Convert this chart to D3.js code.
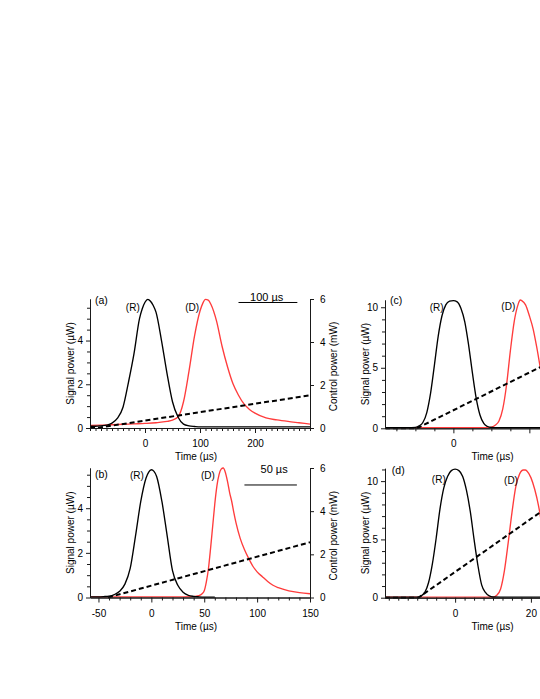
<!DOCTYPE html>
<html><head><meta charset="utf-8">
<script src="https://cdn.jsdelivr.net/npm/d3@7"></script>
<style>
body{margin:0;background:#fff}
svg{display:block}
text{font-family:"Liberation Sans",Arial,Helvetica,sans-serif}
</style>
</head><body>
<svg id="chart" width="540" height="699"></svg>
<script>
// ---------- Panel (a) ----------
const aTimeR   = [-100,-90,-80,-70,-60,-50,-40,-30,-20,-10,-5,0,5,10,15,20,30,40,50,60,70,80,90,100,150,200,250,300];
const aSignalR = [0.08,0.08,0.1,0.13,0.22,0.45,0.95,2.1,3.4,5.0,5.45,5.75,5.88,5.8,5.6,5.3,4.0,2.5,1.2,0.5,0.18,0.1,0.07,0.05,0.05,0.05,0.05,0.05];
const aTimeD   = [-100,-80,-60,-40,-20,0,20,40,50,60,70,80,90,100,105,110,115,120,130,140,150,160,170,180,190,200,220,240,260,280,300];
const aSignalD = [0.12,0.13,0.15,0.17,0.19,0.21,0.24,0.3,0.36,0.5,1.2,2.6,4.2,5.35,5.7,5.88,5.85,5.65,4.9,3.75,2.8,2.02,1.5,1.1,0.85,0.68,0.46,0.37,0.3,0.24,0.18];
const aTimeCtrl = [-100,-88,300];
const aCtrl     = [0,0,1.52];

// ---------- Panel (b) ----------
const bTimeR   = [-58,-50,-45,-40,-35,-30,-25,-20,-15,-10,-5,-2.5,0,2.5,5,10,15,20,25,30,35,40,45,50,55,60];
const bSignalR = [0.03,0.03,0.04,0.06,0.13,0.28,0.6,1.3,2.75,4.3,5.35,5.62,5.72,5.65,5.42,4.3,2.75,1.2,0.55,0.24,0.1,0.05,0.03,0.02,0.02,0.02];
const bTimeD   = [-58,-40,-20,0,20,40,45,48,50,52,54,56,58,60,62,64,66,68,70,72,74,76,78,80,84,88,92,96,100,105,110,115,120,130,140,150];
const bSignalD = [0.03,0.03,0.03,0.03,0.03,0.04,0.08,0.17,0.3,0.7,1.3,2.2,3.2,4.2,5.0,5.5,5.75,5.8,5.6,5.2,4.7,4.3,3.8,3.35,2.65,2.15,1.75,1.4,1.15,0.93,0.72,0.55,0.44,0.3,0.22,0.17];
const bTimeCtrl = [-41,150];
const bCtrl     = [0,2.56];

// ---------- Panel (c) ----------
const cTimeR   = [-18,-12,-10,-9,-8,-7,-6,-5,-4,-3,-2,-1,0,1,2,3,4,5,6,7,8,9,10,12,16,20,23.5];
const cSignalR = [0.05,0.05,0.08,0.2,0.5,1.3,2.9,5.2,7.6,9.3,10.2,10.5,10.55,10.45,9.9,8.8,6.9,4.6,2.5,1.1,0.4,0.15,0.07,0.05,0.05,0.05,0.05];
const cTimeD   = [-18,-10,0,5,9,10,11,12,13,14,15,16,17,17.6,18,19,20,21,22,23,23.5];
const cSignalD = [0.05,0.05,0.05,0.05,0.05,0.1,0.25,0.6,1.6,3.6,6.4,8.8,10.2,10.6,10.55,10.2,9.3,8.2,6.6,4.8,4.0];
const cTimeCtrl = [-18,-9.6,23.5];
const cCtrl     = [0,0,5.15];

// ---------- Panel (d) ----------
const dTimeR   = [-18.5,-10,-9,-8,-7,-6,-5,-4,-3,-2,-1,0,1,2,3,4,5,6,7,8,9,10,12,16,20,23];
const dSignalR = [0.05,0.05,0.15,0.45,1.3,2.9,5.1,7.6,9.4,10.4,10.9,11.03,10.9,10.4,9.2,7.4,5.0,2.8,1.1,0.45,0.15,0.06,0.05,0.05,0.05,0.05];
const dTimeD   = [-18.5,-10,0,5,10,11,12,13,14,15,16,17,18,18.5,19,20,21,22,22.5,23];
const dSignalD = [0.05,0.05,0.05,0.05,0.05,0.2,0.75,2.3,4.7,7.3,9.5,10.6,10.95,10.95,10.85,10.3,9.3,7.9,7.0,6.0];
const dTimeCtrl = [-18.5,-9.7,23];
const dCtrl     = [0,0,7.45];

// ---------- Tick labels ----------
const aTimeTicks = [0,100,200];
const bTimeTicks = [-50,0,50,100,150];
const cTimeTicks = [0];
const dTimeTicks = [0,20];
const abSignalTicks = [0,2,4];
const cdSignalTicks = [0,5,10];
const ctrlTicks = [0,2,4,6];

const FONT = '"Liberation Sans",Arial,Helvetica,sans-serif';
const RED = "#ff3c3c";
const AX = "#1a1a1a";
const svg = d3.select("#chart");

const panels = [
  {letter:"(a)", xDomain:[-100,300], xRange:[90,310], yDomain:[0,5.9], yRange:[428,299], cDomain:[0,6],
   tR:aTimeR, vR:aSignalR, tD:aTimeD, vD:aSignalD, tC:aTimeCtrl, vC:aCtrl,
   xMajor:[0,100,200], xLabels:aTimeTicks, xMinor:10, yMajor:abSignalTicks, yMinor:0.5, right:true,
   ann:{letter:[-90.9,5.65], R:[-22.2,5.35], D:[85.8,5.35]}, bar:{x0:170,x1:277,y:5.74,label:"100 µs",lx:221.3,ly:5.83}},
  {letter:"(b)", xDomain:[-58,150], xRange:[90,310], yDomain:[0,5.8], yRange:[597.5,468], cDomain:[0,6],
   tR:bTimeR, vR:bSignalR, tD:bTimeD, vD:bSignalD, tC:bTimeCtrl, vC:bCtrl,
   xMajor:[-50,0,50,100,150], xLabels:bTimeTicks, xMinor:10, yMajor:abSignalTicks, yMinor:0.5, right:true,
   ann:{letter:[-53.3,5.33], R:[-13.6,5.31], D:[53.4,5.31]}, bar:{x0:88,x1:137.6,y:5.04,label:"50 µs",lx:116.1,ly:5.58}},
  {letter:"(c)", xDomain:[-18,40.7], xRange:[385,608], yDomain:[0,10.6], yRange:[428.3,300], cDomain:null,
   tR:cTimeR, vR:cSignalR, tD:cTimeD, vD:cSignalD, tC:cTimeCtrl, vC:cCtrl,
   xMajor:[0,20], xLabels:cTimeTicks, xMinor:5, yMajor:cdSignalTicks, yMinor:1, right:false,
   ann:{letter:[-16.7,10.23], R:[-4.4,9.69], D:[14.45,9.78]}, bar:null},
  {letter:"(d)", xDomain:[-18.5,40.34], xRange:[385,608], yDomain:[0,11.1], yRange:[597.7,468.3], cDomain:null,
   tR:dTimeR, vR:dSignalR, tD:dTimeD, vD:dSignalD, tC:dTimeCtrl, vC:dCtrl,
   xMajor:[0,20], xLabels:dTimeTicks, xMinor:2.5, yMajor:cdSignalTicks, yMinor:1, right:false,
   ann:{letter:[-16.7,10.57], R:[-4.3,9.84], D:[14.75,9.79]}, bar:null}
];

function minorTicks(domain, step, majors){
  const out=[];
  const start=Math.ceil(domain[0]/step-1e-9)*step;
  for(let v=start; v<=domain[1]+1e-9; v+=step){
    const r=+v.toFixed(4);
    if(!majors.some(m=>Math.abs(m-r)<1e-6)) out.push(r);
  }
  return out;
}
function styleAxis(sel){
  sel.attr("font-family",FONT).attr("font-size",10);
  sel.selectAll(".domain").attr("stroke",AX).attr("stroke-width",1);
  sel.selectAll(".tick line").attr("stroke",AX).attr("stroke-width",1);
  sel.selectAll(".tick text").attr("fill","#000");
}

panels.forEach(p=>{
  const x=d3.scaleLinear().domain(p.xDomain).range(p.xRange);
  const y=d3.scaleLinear().domain(p.yDomain).range(p.yRange);
  const yc=p.cDomain ? d3.scaleLinear().domain(p.cDomain).range(p.yRange) : y;
  const g=svg.append("g");
  const line=(sx,sy)=>d3.line().x(d=>sx(d[0])).y(d=>sy(d[1])).curve(d3.curveMonotoneX);

  // curves
  g.append("path").datum(d3.zip(p.tD,p.vD)).attr("d",line(x,y))
    .attr("fill","none").attr("stroke",RED).attr("stroke-width",1.35);
  g.append("path").datum(d3.zip(p.tR,p.vR)).attr("d",line(x,y))
    .attr("fill","none").attr("stroke","#000").attr("stroke-width",1.35);
  g.append("path").datum(d3.zip(p.tC,p.vC)).attr("d",d3.line().x(d=>x(d[0])).y(d=>yc(d[1])))
    .attr("fill","none").attr("stroke","#000").attr("stroke-width",2).attr("stroke-dasharray","5,3");

  // x axis
  const xb=p.yRange[0];
  g.append("g").attr("transform",`translate(0,${xb})`)
    .call(d3.axisBottom(x).tickValues(minorTicks(p.xDomain,p.xMinor,p.xMajor)).tickSize(3).tickSizeOuter(0).tickFormat(""))
    .call(styleAxis);
  g.append("g").attr("transform",`translate(0,${xb})`)
    .call(d3.axisBottom(x).tickValues(p.xMajor).tickSize(5).tickSizeOuter(0).tickPadding(7)
      .tickFormat(d=>p.xLabels.includes(d)?String(d):""))
    .call(styleAxis);
  // y axis
  const xl=p.xRange[0];
  g.append("g").attr("transform",`translate(${xl},0)`)
    .call(d3.axisLeft(y).tickValues(minorTicks(p.yDomain,p.yMinor,p.yMajor)).tickSize(3).tickSizeOuter(0).tickFormat(""))
    .call(styleAxis);
  g.append("g").attr("transform",`translate(${xl},0)`)
    .call(d3.axisLeft(y).tickValues(p.yMajor).tickSize(4).tickSizeOuter(0).tickPadding(3).tickFormat(d=>String(d)))
    .call(styleAxis);
  if(p.right){
    g.append("g").attr("transform",`translate(${p.xRange[1]},0)`)
      .call(d3.axisRight(yc).tickValues(ctrlTicks).tickSize(4).tickSizeOuter(0).tickPadding(6).tickFormat(d=>String(d)))
      .call(styleAxis);
    const ym=(p.yRange[0]+p.yRange[1])/2+3;
    g.append("text").attr("transform",`translate(${p.xRange[1]+26.5},${ym}) rotate(-90)`)
      .attr("text-anchor","middle").attr("font-size",10).attr("fill","#000").text("Control power (mW)");
  }
  // titles
  const xm=(p.xRange[0]+p.xRange[1])/2-4;
  g.append("text").attr("x",xm).attr("y",xb+32).attr("text-anchor","middle")
    .attr("font-size",10).attr("fill","#000").text("Time (µs)");
  const ymid=(p.yRange[0]+p.yRange[1])/2;
  g.append("text").attr("transform",`translate(${xl-16.5},${ymid}) rotate(-90)`)
    .attr("text-anchor","middle").attr("font-size",10).attr("fill","#000").text("Signal power (µW)");

  // annotations
  g.append("text").attr("x",x(p.ann.letter[0])).attr("y",y(p.ann.letter[1]))
    .attr("font-size",10.5).attr("fill","#000").text(p.letter);
  g.append("text").attr("x",x(p.ann.R[0])).attr("y",y(p.ann.R[1])).attr("text-anchor","middle")
    .attr("font-size",10).attr("fill","#000").text("(R)");
  g.append("text").attr("x",x(p.ann.D[0])).attr("y",y(p.ann.D[1])).attr("text-anchor","middle")
    .attr("font-size",10).attr("fill","#000").text("(D)");
  if(p.bar){
    g.append("line").attr("x1",x(p.bar.x0)).attr("x2",x(p.bar.x1))
      .attr("y1",y(p.bar.y)).attr("y2",y(p.bar.y)).attr("stroke","#000").attr("stroke-width",1);
    g.append("text").attr("x",x(p.bar.lx)).attr("y",y(p.bar.ly)).attr("text-anchor","middle")
      .attr("font-size",11).attr("fill","#000").text(p.bar.label);
  }
});
</script>
</body></html>
